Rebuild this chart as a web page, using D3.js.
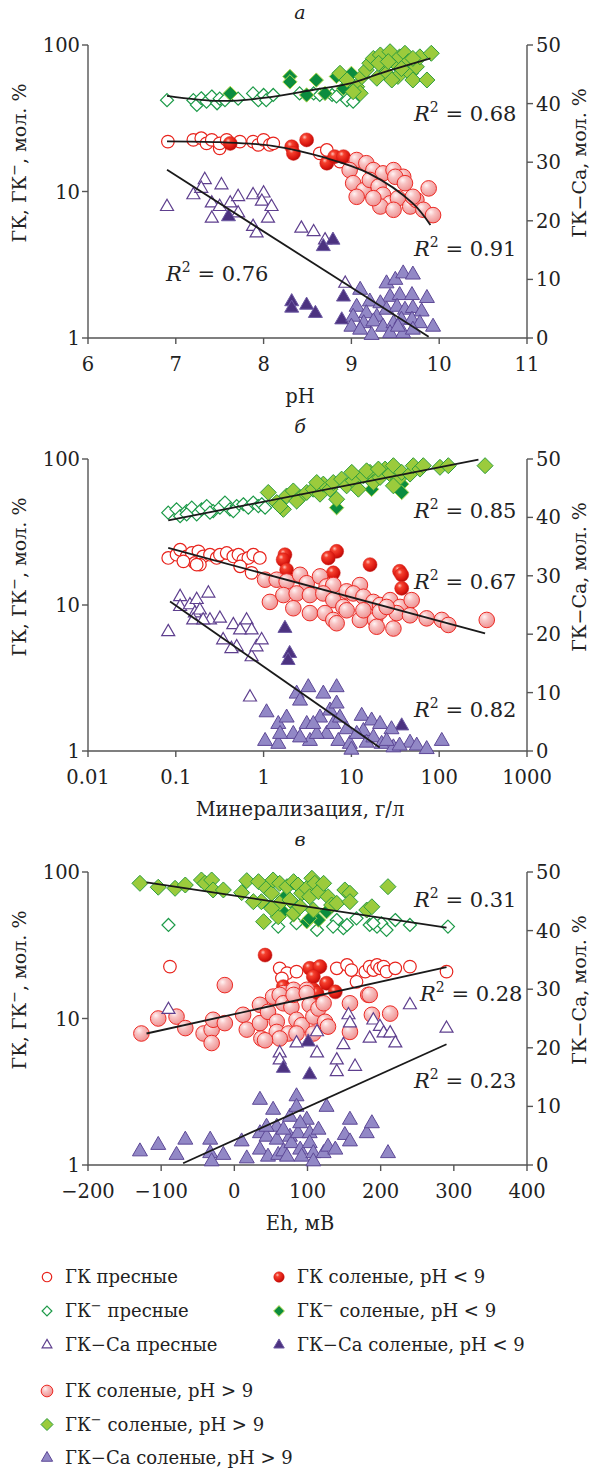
<!DOCTYPE html>
<html>
<head>
<meta charset="utf-8">
<script src="https://cdn.jsdelivr.net/npm/d3@7"></script>
<style>
  body { margin: 0; background: #fff; }
  svg { display: block; }
  text { font-family: 'DejaVu Serif', 'Liberation Serif', serif; fill: #222; }
</style>
</head>
<body>
<svg id="chart" width="599" height="1470"></svg>
<script>
// ---------- panel а : pH ----------
const aAnFresh = [[6.90,42],[7.20,42],[7.24,39],[7.29,43.3],[7.35,41],[7.41,44.5],[7.47,40],[7.50,43],[7.56,42],[7.64,45.6],[7.71,43],[7.88,46.7],[7.94,42],[8.00,45.6],[8.03,42],[8.11,45.6],[8.41,46.7],[8.57,46.7],[8.64,45.6],[8.78,45.6],[8.83,44.5],[8.95,42],[9.02,41]];
const aAnLow = [[7.62,46.7],[8.30,61],[8.30,56],[8.60,57.6],[8.49,45.6],[8.70,46.7],[8.91,50.7],[9.00,64],[8.83,61]];
const aAnHigh = [[8.87,64.1],[8.95,57.7],[9.06,51.9],[9.12,60.8],[9.17,67.5],[9.21,75],[9.25,81],[9.33,85.5],[9.36,71],[9.40,64],[9.44,90],[9.50,75],[9.53,61],[9.55,83],[9.61,87.8],[9.65,77],[9.67,64],[9.70,57.7],[9.74,71],[9.78,83],[9.86,57.7],[9.91,87.8],[9.10,46.8],[9.02,48],[9.29,59.3],[9.46,57.7],[9.57,69],[9.70,81],[9.31,75],[9.42,77]];
const aGkFresh = [[6.91,21.9],[7.20,22.5],[7.29,23.1],[7.35,21.3],[7.41,22.5],[7.50,19.7],[7.50,21.3],[7.58,22.5],[7.73,21.9],[7.88,21.9],[7.94,20.8],[8.00,22.5],[8.07,20.8],[8.11,21.3],[8.64,18.2],[8.72,19.2],[8.87,16]];
const aGkLow = [[7.62,21.3],[8.32,20.2],[8.34,18.2],[8.49,22.5],[8.72,15.6],[8.81,17.3],[8.91,17.3]];
const aGkHigh = [[9.06,16.4],[9.17,15.6],[9.25,14],[9.36,13.3],[9.48,14],[9.59,12.6],[8.98,14],[9.02,11.4],[9.14,10.2],[9.21,12],[9.31,10.8],[9.36,9.5],[9.44,8.3],[9.50,12.6],[9.53,9],[9.61,11.4],[9.67,7.9],[9.74,8.75],[9.82,7.5],[9.88,10.5],[9.93,6.9],[9.33,7.9],[9.48,7.5],[9.70,9.2],[9.06,9.2],[9.25,9]];
const aCaFresh = [[6.90,22.4],[7.20,24.4],[7.33,27],[7.29,25.5],[7.41,23],[7.41,20.4],[7.52,26.1],[7.50,22.4],[7.62,23],[7.71,24.1],[7.71,21.3],[7.88,24.4],[8.00,24.7],[7.98,23.3],[8.09,22.4],[8.05,20.4],[7.88,19],[7.92,17.9],[8.43,18.7],[8.57,18.1],[8.70,16.7],[8.93,9.3]];
const aCaLow = [[7.60,20.7],[8.68,15.6],[8.79,16.7],[8.32,6.2],[8.32,5.1],[8.49,5.6],[8.59,4.2],[8.91,7.0],[8.89,3.1]];
const aCaHigh = [[9.40,9.3],[9.50,9.9],[9.59,11.0],[9.70,10.8],[9.44,7.0],[9.55,7.3],[9.69,7.3],[9.86,6.8],[9.10,8.2],[9.21,6.2],[9.33,5.9],[9.06,5.3],[9.17,4.2],[9.29,3.6],[9.40,4.8],[9.52,5.3],[9.61,4.8],[9.70,5.1],[9.80,4.5],[9.02,3.6],[9.14,2.5],[9.25,2.8],[9.36,1.9],[9.48,2.5],[9.57,3.1],[9.69,3.1],[9.78,2.5],[9.00,1.9],[9.23,0.5],[9.44,0.8],[9.59,0.8],[9.70,1.4],[9.93,1.9],[9.10,1.4],[9.53,1.9]];
const aAnTrend = [[6.9,45],[7.5,41.5],[8.0,43.5],[8.57,49.5],[9.0,55],[9.33,64],[9.9,81]];
const aGkTrend = [[6.9,22],[7.5,21.7],[8.1,20.5],[8.7,17],[9.2,13.3],[9.7,8.3],[9.9,5.9]];
const aCaTrend = [[6.9,28.7],[9.88,0.2]];

// ---------- panel б : минерализация ----------
const bAnFresh = [[0.082,42.9],[0.102,45.2],[0.112,40.6],[0.133,44],[0.152,46.4],[0.173,41.8],[0.197,45.2],[0.225,47.6],[0.267,44],[0.318,46.4],[0.363,50.3],[0.414,45.2],[0.494,47.6],[0.588,49],[0.670,46.4],[0.763,50.3],[0.871,47.6],[0.952,49],[1.04,46.4],[0.133,41.8],[0.245,42.9],[0.452,44]];
const bAnLow = [[6.79,46.4],[17,62],[37.4,67.3],[37.4,59]];
const bAnHigh = [[1.13,59],[1.41,50.3],[1.68,45.2],[1.83,55.8],[2.18,60.4],[2.60,54.4],[3.10,59],[3.68,62.1],[4.39,57.4],[4.79,67.3],[5.70,62.1],[6.22,69],[6.79,53],[7.74,72.8],[8.83,65.5],[10.5,71],[12,62.1],[13.7,76.7],[16.3,81],[17.8,69],[21.2,74.8],[24.2,85.3],[27.6,78.8],[30.1,90],[34.3,72.8],[37.4,81],[46.5,78.8],[50.7,90],[60.4,85.3],[65.9,90],[102,87.7],[127,90],[333,90],[30.1,65.5],[1.54,47.6],[2.38,51.5],[4.03,69],[10.1,81],[14.9,83],[20.3,85.3]];
const bGkFresh = [[0.082,21],[0.102,22.1],[0.112,23.9],[0.133,21.5],[0.152,22.7],[0.165,19.4],[0.181,23.3],[0.205,21.5],[0.245,22.1],[0.292,21],[0.318,22.1],[0.380,22.7],[0.452,21.5],[0.517,22.1],[0.588,20.4],[0.670,21],[0.763,22.1],[0.906,21],[0.122,19.9],[0.188,18.9],[0.173,18.9],[0.54,18.4],[0.73,16.6]];
const bGkLow = [[1.75,22.1],[6.79,23.3],[5.46,21],[16.3,18.9],[35.4,17],[1.67,20.4],[1.83,17.4],[6.22,16.6],[37.4,16.1],[37.4,13]];
const bGkHigh = [[1.04,14.9],[1.41,14.9],[1.83,14.5],[2.60,16.1],[3.10,14.1],[4.39,15.7],[5.22,13.4],[6.22,13.7],[8.83,12.4],[12.5,13.7],[1.18,10.5],[1.68,11.7],[2.38,12],[3.37,11.7],[4.79,12],[6.22,10.8],[8.09,9.7],[10.5,12],[13.7,11.4],[17.8,10.5],[21.2,10],[27.6,10.8],[35.8,9.7],[48.6,10.8],[2.18,9.5],[3.37,8.8],[5.0,8.8],[6.22,7.9],[6.79,7.5],[12.5,7.9],[18.6,7.9],[19.4,7.1],[30.1,6.9],[32.8,8.8],[46.5,8.5],[72,8.1],[107,7.9],[127,7.3],[348,7.9],[13.7,9.2],[21.2,9],[25.2,9.7],[8.83,9.2]];
const bCaFresh = [[0.082,20.4],[0.112,26.4],[0.112,24.7],[0.145,25],[0.165,23.6],[0.173,25.9],[0.188,24.1],[0.235,27],[0.245,22.4],[0.318,22.7],[0.346,19],[0.452,21.6],[0.494,17.8],[0.54,20.7],[0.64,22.4],[0.73,20.7],[0.73,16.1],[0.83,17.8],[0.95,19],[0.43,17.5],[0.158,22.4],[0.205,22.4],[0.70,9.2]];
const bCaLow = [[1.75,21],[1.98,16.7],[1.9,15.5],[37.4,4.3]];
const bCaHigh = [[1.08,6.6],[1.04,1.7],[1.47,4.6],[1.47,1.2],[1.83,5.7],[2.18,2.9],[2.38,9.8],[2.6,8.6],[3.23,10.9],[3.1,4.6],[3.37,1.7],[4.39,5.7],[4.79,9.8],[5.22,2.9],[5.7,6.9],[6.22,4.6],[6.79,10.9],[6.79,8.1],[7.1,1.7],[8.83,3.7],[9.6,1.2],[10,0.2],[13.1,6],[13.7,3.4],[14.9,1.4],[17,5.2],[17.8,2.3],[21.2,4.6],[22.1,1.2],[28.6,3.7],[30.1,0.6],[46.5,1.4],[55.5,0.9],[72,0.3],[107,1.7],[1.54,2.9],[2.6,2.3],[4.03,2.9],[11.5,2.9],[25.2,1.7],[35.4,0.9],[3.68,4.6],[7.4,5.7]];
const bAnTrend = [[0.082,38],[280,99]];
const bGkTrend = [[0.082,24.6],[333,6.4]];
const bCaTrend = [[0.086,25.6],[21,0.6]];

// ---------- panel в : Eh ----------
const cAnFresh = [[-90,43.5],[60,42.4],[85,44.7],[113,40.2],[140,47],[149,41.3],[154,43.5],[167,48.3],[185,43.5],[195,42.4],[201,44.7],[208,40.2],[220,47],[240,43.5],[292,42.4],[135,42.4],[190,44.7]];
const cAnLow = [[67,66.2],[67,53.6],[81,50.9],[99,45.8],[115,47],[126,53.6],[103,48.3]];
const cAnHigh = [[-129,83.7],[-104,78.7],[-81,77.4],[-67,81.5],[-45,88.2],[-40,83.7],[-31,88.2],[-29,75.4],[-15,75.4],[10,72.3],[17,87.3],[33,85.9],[37,62.7],[44,77.4],[51,71.6],[53,88.2],[62,83.7],[72,79.4],[81,85.9],[87,81.5],[92,71.6],[99,77.4],[103,67.8],[106,90.6],[110,83.7],[115,73.4],[122,83.7],[128,67.8],[133,59.5],[140,61.1],[151,75.4],[158,71.6],[158,62.7],[181,55],[188,57.9],[210,79.4],[40,45.8],[60,49.5],[81,52.3],[90,57.9],[108,55],[62,61.1],[51,56.5],[26,62.7],[76,64.4]];
const cGkFresh = [[-88,22.6],[62,22],[72,20.4],[85,20.9],[113,22],[140,22],[154,23.2],[160,21.4],[167,17.8],[179,20.9],[185,22.6],[190,21.4],[195,23.2],[199,22],[204,22.6],[208,20.9],[220,22],[240,22.6],[290,20.9],[65,18.8]];
const cGkLow = [[42,27.1],[103,22],[117,22.6],[108,19.3],[126,17.4],[138,15.2],[67,16.5],[108,15.7],[113,14.9]];
const cGkHigh = [[-13,16.9],[53,14.1],[67,14.9],[81,15.7],[99,15.7],[183,14.5],[-127,7.9],[-104,10],[-79,10.3],[-67,8.6],[-42,7.9],[-31,8.4],[-31,6.8],[-29,9.8],[-13,9.3],[12,10.6],[17,8.4],[35,12.4],[35,9.3],[37,7.3],[46,11.1],[58,9.5],[58,8.1],[62,14.5],[67,12.7],[74,7.9],[78,12],[81,14.5],[85,9.8],[92,9],[99,14.9],[103,12.4],[108,10.3],[115,11.7],[122,12.7],[124,9.5],[128,8.8],[158,12.7],[158,8.1],[185,14.5],[188,10.6],[213,10.8],[62,7.3],[42,7.1],[108,7.9],[85,7.9]];
const cCaFresh = [[-90,26.5],[62,19.1],[62,17.9],[85,20.8],[113,22.7],[113,19.1],[149,20.5],[156,25.6],[158,24.2],[140,17.9],[140,15.9],[165,16.8],[185,21.6],[190,24.7],[199,23.6],[204,22.5],[213,22.5],[220,20.8],[240,27.3],[290,23.3]];
const cCaLow = [[67,16.5],[103,15.4],[101,21]];
const cCaHigh = [[-129,2.3],[-104,3.4],[-79,1.7],[-67,4.3],[-33,4.3],[-33,2.0],[-31,0.6],[-15,1.7],[10,4.0],[17,1.1],[35,11.1],[35,5.4],[35,2.6],[44,4.8],[46,1.4],[53,9.4],[58,6.5],[58,4.3],[60,1.7],[67,2.3],[76,8.2],[76,4.8],[78,3.7],[85,11.7],[85,9.9],[87,5.4],[90,2.6],[92,1.4],[99,7.7],[103,5.4],[103,3.7],[108,2.0],[108,0.6],[115,6.0],[122,2.0],[126,9.9],[128,3.1],[138,2.6],[151,5.1],[158,7.7],[158,4.0],[181,5.4],[188,7.1],[210,2.0],[44,6.5],[67,6.0],[90,7.1],[72,1.4]];
const cAnTrend = [[-120,85],[290,41.7]];
const cGkTrend = [[-120,7.9],[290,22.4]];
const cCaTrend = [[-70,0.3],[290,20.6]];

// ---------- legend ----------
const legendCol1 = [['gkF', 'ГК пресные'], ['anF', 'ГК‾ пресные'], ['caF', 'ГК−Са пресные']];
const legendCol2 = [['gkL', 'ГК соленые, pH < 9'], ['anL', 'ГК‾ соленые, pH < 9'], ['caL', 'ГК−Са соленые, pH < 9']];
const legendCol3 = [['gkH', 'ГК соленые, pH > 9'], ['anH', 'ГК‾ соленые, pH > 9'], ['caH', 'ГК−Са соленые, pH > 9']];

const svg = d3.select('#chart');
const defs = svg.append('defs');

function radial(id, stops) {
  const g = defs.append('radialGradient').attr('id', id)
    .attr('cx', '38%').attr('cy', '35%').attr('r', '70%').attr('fx', '35%').attr('fy', '30%');
  stops.forEach(([o, c]) => g.append('stop').attr('offset', o).attr('stop-color', c));
}
radial('gRed', [[0, '#ffc2b8'], [0.25, '#f5402e'], [0.75, '#d8150e'], [1, '#a80a0a']]);
radial('gPink', [[0, '#fff4f4'], [0.35, '#f8c4c4'], [1, '#ee8f8f']]);

function triPath(s) {
  const h = s * 0.866;
  return `M0,${-2 * h / 3}L${s / 2},${h / 3}L${-s / 2},${h / 3}Z`;
}
function diaPath(h) {
  return `M0,${-h}L${h},0L0,${h}L${-h},0Z`;
}

// draw one marker of a given kind at (x,y)
function marker(g, kind, x, y, k = 1) {
  const t = `translate(${x},${y})`;
  switch (kind) {
    case 'gkF': return g.append('circle').attr('cx', x).attr('cy', y).attr('r', 6.3 * k)
      .attr('fill', '#fff').attr('stroke', '#e8231c').attr('stroke-width', 1.2);
    case 'gkL': return g.append('circle').attr('cx', x).attr('cy', y).attr('r', 7 * k)
      .attr('fill', 'url(#gRed)').attr('stroke', '#d41a12').attr('stroke-width', 0.5);
    case 'gkH': return g.append('circle').attr('cx', x).attr('cy', y).attr('r', 7.8 * k)
      .attr('fill', 'url(#gPink)').attr('stroke', '#ec2a24').attr('stroke-width', 1);
    case 'anF': return g.append('path').attr('transform', t).attr('d', diaPath(6.5 * k))
      .attr('fill', '#fff').attr('stroke', '#1c9a48').attr('stroke-width', 1.2);
    case 'anL': return g.append('path').attr('transform', t).attr('d', diaPath(7.2 * k))
      .attr('fill', '#0b8c3e').attr('stroke', '#b4da4e').attr('stroke-width', 1);
    case 'anH': return g.append('path').attr('transform', t).attr('d', diaPath(8 * k))
      .attr('fill', '#9bcb3c').attr('stroke', '#2c9c3e').attr('stroke-width', 1);
    case 'caF': return g.append('path').attr('transform', t).attr('d', triPath(13 * k))
      .attr('fill', '#fff').attr('stroke', '#5e3f8e').attr('stroke-width', 1.2);
    case 'caL': return g.append('path').attr('transform', t).attr('d', triPath(14 * k))
      .attr('fill', '#4c3280').attr('stroke', '#6d5aa3').attr('stroke-width', 1);
    case 'caH': return g.append('path').attr('transform', t).attr('d', triPath(15 * k))
      .attr('fill', '#9288c6').attr('stroke', '#5d4896').attr('stroke-width', 1);
  }
}

const X0 = 88, X1 = 527;
const axisColor = '#555';

const panels = [
  {
    title: 'а', top: 45, bottom: 338,
    x: d3.scaleLinear().domain([6, 11]), xTicks: [6, 7, 8, 9, 10, 11], xFmt: d => d, xLabel: 'pH',
    series: [
      ['anF', aAnFresh, 'L'], ['anL', aAnLow, 'L'], ['anH', aAnHigh, 'L'],
      ['gkF', aGkFresh, 'L'], ['gkL', aGkLow, 'L'], ['gkH', aGkHigh, 'L'],
      ['caF', aCaFresh, 'R'], ['caL', aCaLow, 'R'], ['caH', aCaHigh, 'R']
    ],
    trends: [[aAnTrend, 'L'], [aGkTrend, 'L'], [aCaTrend, 'R']],
    r2: [['0.68', 414, 76], ['0.91', 414, 211], ['0.76', 166, 236]]
  },
  {
    title: 'б', top: 459, bottom: 751,
    x: d3.scaleLog().domain([0.01, 1000]), xTicks: [0.01, 0.1, 1, 10, 100, 1000], xFmt: d => String(d), xLabel: 'Минерализация, г/л',
    series: [
      ['anF', bAnFresh, 'L'], ['anL', bAnLow, 'L'], ['anH', bAnHigh, 'L'],
      ['gkF', bGkFresh, 'L'], ['gkL', bGkLow, 'L'], ['gkH', bGkHigh, 'L'],
      ['caF', bCaFresh, 'R'], ['caL', bCaLow, 'R'], ['caH', bCaHigh, 'R']
    ],
    trends: [[bAnTrend, 'L'], [bGkTrend, 'L'], [bCaTrend, 'R']],
    r2: [['0.85', 414, 59], ['0.67', 414, 130], ['0.82', 414, 258]]
  },
  {
    title: 'в', top: 872, bottom: 1165,
    x: d3.scaleLinear().domain([-200, 400]), xTicks: [-200, -100, 0, 100, 200, 300, 400], xFmt: d => String(d).replace('-', '−'), xLabel: 'Eh, мВ',
    series: [
      ['anF', cAnFresh, 'L'], ['anL', cAnLow, 'L'], ['anH', cAnHigh, 'L'],
      ['gkF', cGkFresh, 'L'], ['gkL', cGkLow, 'L'], ['gkH', cGkHigh, 'L'],
      ['caF', cCaFresh, 'R'], ['caL', cCaLow, 'R'], ['caH', cCaHigh, 'R']
    ],
    trends: [[cAnTrend, 'L'], [cGkTrend, 'L'], [cCaTrend, 'R']],
    r2: [['0.31', 414, 35], ['0.28', 420, 129], ['0.23', 414, 216]]
  }
];

function yTitle(g, x, y, parts) {
  const t = g.append('text').attr('transform', `translate(${x},${y}) rotate(-90)`)
    .attr('text-anchor', 'middle').attr('font-size', 19);
  parts.forEach(p => {
    const s = t.append('tspan').text(p[0]);
    if (p[1]) s.attr('dy', p[1]);
    if (p[2]) s.attr('font-size', p[2]);
  });
}

panels.forEach(p => {
  const g = svg.append('g');
  const x = p.x.range([X0, X1]);
  const yL = d3.scaleLog().domain([1, 100]).range([p.bottom, p.top]);
  const yR = d3.scaleLinear().domain([0, 50]).range([p.bottom, p.top]);

  // frame lines (left, bottom, right)
  g.append('path')
    .attr('d', `M${X0},${p.top}V${p.bottom}H${X1}V${p.top}`)
    .attr('fill', 'none').attr('stroke', axisColor).attr('stroke-width', 1.4);

  // left ticks
  [1, 10, 100].forEach(v => {
    g.append('line').attr('x1', X0 - 6).attr('x2', X0).attr('y1', yL(v)).attr('y2', yL(v))
      .attr('stroke', axisColor).attr('stroke-width', 1.4);
    g.append('text').attr('x', X0 - 8).attr('y', yL(v) + 7).attr('text-anchor', 'end')
      .attr('font-size', 19.5).text(v);
  });
  // right ticks
  d3.range(0, 51, 10).forEach(v => {
    g.append('line').attr('x1', X1).attr('x2', X1 + 6).attr('y1', yR(v)).attr('y2', yR(v))
      .attr('stroke', axisColor).attr('stroke-width', 1.4);
    g.append('text').attr('x', X1 + 9).attr('y', yR(v) + 7).attr('text-anchor', 'start')
      .attr('font-size', 19.5).text(v);
  });
  // bottom ticks
  p.xTicks.forEach(v => {
    g.append('line').attr('x1', x(v)).attr('x2', x(v)).attr('y1', p.bottom).attr('y2', p.bottom + 6)
      .attr('stroke', axisColor).attr('stroke-width', 1.4);
    g.append('text').attr('x', x(v)).attr('y', p.bottom + 33).attr('text-anchor', 'middle')
      .attr('font-size', 19.5).text(p.xFmt(v));
  });

  g.append('text').attr('x', 300).attr('y', p.bottom + 65).attr('text-anchor', 'middle')
    .attr('font-size', 19.5).text(p.xLabel);
  g.append('text').attr('x', 300).attr('y', p.top - 26).attr('text-anchor', 'middle')
    .attr('font-size', 19).attr('font-style', 'italic').text(p.title);

  const mid = p.top + 118;
  yTitle(g, 26, mid, [['ГК, ГК'], ['−', -7, 14], [', мол. %', 7]]);
  yTitle(g, 586, mid, [['ГК−Са, мол. %']]);

  // points
  const pts = g.append('g');
  p.series.forEach(([kind, data, axis]) => {
    const y = axis === 'L' ? yL : yR;
    data.forEach(d => marker(pts, kind, x(d[0]), y(d[1])));
  });

  // trend lines
  p.trends.forEach(([data, axis]) => {
    const y = axis === 'L' ? yL : yR;
    const line = d3.line().x(d => x(d[0])).y(d => y(d[1]))
      .curve(data.length > 2 ? d3.curveCatmullRom : d3.curveLinear);
    g.append('path').datum(data).attr('d', line)
      .attr('fill', 'none').attr('stroke', '#1a1a1a').attr('stroke-width', 1.8);
  });

  // R² labels
  p.r2.forEach(([val, lx, dy]) => {
    const t = g.append('text').attr('x', lx).attr('y', p.top + dy).attr('font-size', 21);
    t.append('tspan').attr('font-style', 'italic').text('R');
    t.append('tspan').attr('dy', -9).attr('font-size', 14).text('2');
    t.append('tspan').attr('dy', 9).text(' = ' + val);
  });
});

// legend
function legendItem(kind, label, lx, ly) {
  marker(svg, kind, lx, ly, 0.75);
  const t = svg.append('text').attr('x', lx + 18).attr('y', ly + 6).attr('font-size', 18);
  if (label.includes('‾')) {
    const [a, b] = label.split('‾');
    t.append('tspan').text(a);
    t.append('tspan').attr('dy', -7).attr('font-size', 13).text('−');
    t.append('tspan').attr('dy', 7).text(b);
  } else {
    t.text(label);
  }
}
legendCol1.forEach(([k, l], i) => legendItem(k, l, 47, 1277 + i * 34));
legendCol2.forEach(([k, l], i) => legendItem(k, l, 279, 1277 + i * 34));
legendCol3.forEach(([k, l], i) => legendItem(k, l, 47, 1391 + i * 33.5));
</script>
</body>
</html>
